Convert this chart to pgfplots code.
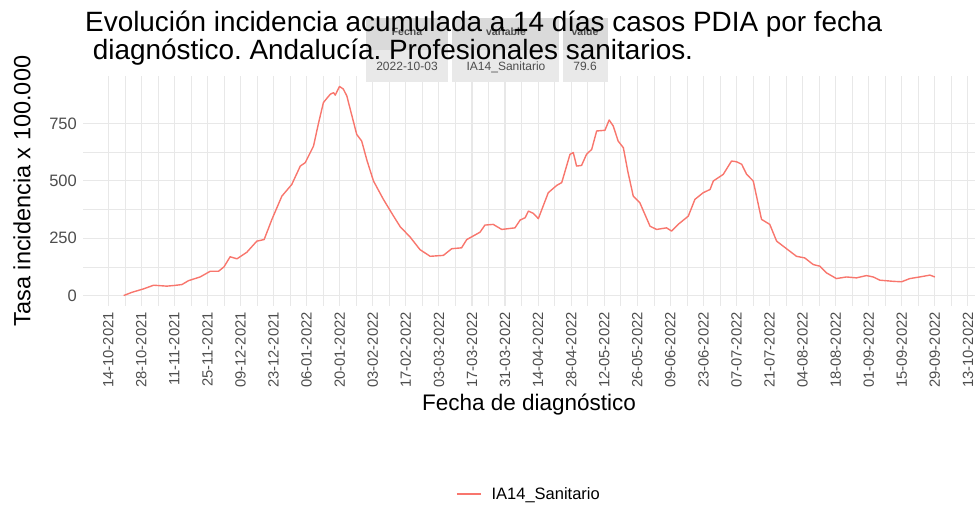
\documentclass[border=0pt]{standalone}
\usepackage{fontspec}
\setmainfont{Liberation Sans}
\usepackage{pgfplots}
\pgfplotsset{compat=1.18}
\frenchspacing
\definecolor{linecol}{HTML}{F8766D}
\definecolor{gridc}{HTML}{E8E8E8}
\definecolor{tickc}{HTML}{4D4D4D}
\definecolor{tipA}{HTML}{DADADA}
\definecolor{tipB}{HTML}{E9E9E9}
\pgfplotstableread{
d v
6.5 0
10 14
14.9 29
19.2 45
24.8 41
28 44
31.2 48
34 65
38.9 81
43.2 106
46.7 106
49 125
51.6 169
54.5 160
58.7 189
62.9 237
66 244
69.3 332
73.5 433
77.7 484
81.3 564
83.4 579
86.9 651
89 750
91.1 841
94 877
95.4 884
96.1 873
97.9 911
99.5 900
101 870
103 790
105.2 702
107.3 673
109.5 590
112.3 499
116.5 419
120.8 346
123.6 300
127.8 255
132 200
136.3 171
141.9 175
145.4 204
149.6 208
151.8 244
157.4 276
159.5 307
163 310
166.6 288
172.2 295
174.4 329
176.5 339
177.9 368
180 358
182.1 335
186.3 448
189.9 480
192 492
195.5 615
196.9 623
198.3 564
200.4 567
202.5 615
204.7 637
206.8 717
210.3 720
212.1 765
213.8 739
215.9 673
218.1 644
220 540
222.3 433
225.1 404
229.4 302
232.2 288
236.4 295
238.5 281
241.3 310
245.6 346
248.4 419
251.9 448
254.8 462
256.2 499
260.4 528
263.9 586
266 583
268.2 572
270.3 528
273.1 499
276.6 332
280.1 310
283 237
287.2 204
291.4 171
294.9 164
298.5 135
301.3 128
304.1 99
308.3 74
312.6 81
316.8 77
321 87
323.9 81
326.7 67
332.3 62
335.9 60
339.4 74
343.6 81
347.9 89
350 81
}\datatable
\begin{document}
\begin{tikzpicture}
\path[use as bounding box] (0pt,0pt) rectangle (979pt,508pt);
\begin{axis}[
  at={(83pt,202pt)}, anchor=south west,
  width=892pt, height=230pt, scale only axis,
  xmin=-10.7, xmax=367, ymin=-45.5, ymax=956.5,
  axis line style={draw=none},
  major tick length=0pt, minor tick length=0pt,
  xtick={0,14,...,364},
  xticklabels={14-10-2021,28-10-2021,11-11-2021,25-11-2021,09-12-2021,23-12-2021,06-01-2022,20-01-2022,03-02-2022,17-02-2022,03-03-2022,17-03-2022,31-03-2022,14-04-2022,28-04-2022,12-05-2022,26-05-2022,09-06-2022,23-06-2022,07-07-2022,21-07-2022,04-08-2022,18-08-2022,01-09-2022,15-09-2022,29-09-2022,13-10-2022},
  minor x tick num=1,
  ytick={0,250,500,750}, yticklabels={0,250,500,750},
  minor y tick num=1,
  grid=both,
  major grid style={gridc, line width=1.1pt},
  minor grid style={gridc, line width=0.55pt},
  x tick label style={yshift=-6pt, rotate=90, anchor=east, font=\fontsize{14.8}{16}\selectfont, text=tickc, inner sep=0pt},
  y tick label style={xshift=-6pt, anchor=east, font=\fontsize{16.5}{18}\selectfont, text=tickc, inner sep=0pt},
  xlabel={Fecha de diagnóstico},
  xlabel style={at={(axis description cs:0.5,-0.43)}, anchor=center, font=\fontsize{22.5}{24}\selectfont},
  ylabel={Tasa incidencia x 100.000},
  ylabel style={at={(axis description cs:-0.0684,0.5)}, anchor=center, font=\fontsize{23.5}{25}\selectfont},
  legend style={at={(axis description cs:0.5,-0.817)}, anchor=center, draw=none, fill=none, font=\fontsize{16.5}{18}\selectfont},
  legend cell align=left,
  legend image code/.code={\draw[linecol, line width=1.4pt] (0pt,0pt) -- (24pt,0pt); \path (32pt,0pt);},
]
\addplot[linecol, line width=1.4pt, line join=round] table[x=d, y=v] {\datatable};
\addlegendentry{IA14\_Sanitario}
\end{axis}
% tooltip
\fill[tipA] (366pt,490pt) rectangle (448pt,458pt);
\fill[tipB] (366pt,458pt) rectangle (448pt,426pt);
\fill[tipA] (452pt,490pt) rectangle (559pt,458pt);
\fill[tipB] (452pt,458pt) rectangle (559pt,426pt);
\fill[tipA] (563pt,490pt) rectangle (608pt,458pt);
\fill[tipB] (563pt,458pt) rectangle (608pt,426pt);
\node[anchor=base, font=\bfseries\fontsize{10.5}{12}\selectfont, text=tickc, inner sep=0pt] at (407pt,472pt) {Fecha};
\node[anchor=base, font=\bfseries\fontsize{10.5}{12}\selectfont, text=tickc, inner sep=0pt] at (506pt,472pt) {variable};
\node[anchor=base, font=\bfseries\fontsize{10.5}{12}\selectfont, text=tickc, inner sep=0pt] at (585pt,472pt) {value};
\node[anchor=base, font=\fontsize{12}{13}\selectfont, text=tickc, inner sep=0pt] at (407pt,437pt) {2022-10-03};
\node[anchor=base, font=\fontsize{12}{13}\selectfont, text=tickc, inner sep=0pt] at (506pt,437pt) {IA14\_Sanitario};
\node[anchor=base, font=\fontsize{12}{13}\selectfont, text=tickc, inner sep=0pt] at (585pt,437pt) {79.6};
% title
\node[anchor=base west, inner sep=0pt, font=\fontsize{27.9}{28}\selectfont] at (85pt,476.3pt) {Evolución incidencia acumulada a 14 días casos PDIA por fecha};
\node[anchor=base west, inner sep=0pt, font=\fontsize{27.9}{28}\selectfont] at (92.7pt,448pt) {diagnóstico. Andalucía. Profesionales sanitarios.};
\end{tikzpicture}
\end{document}
